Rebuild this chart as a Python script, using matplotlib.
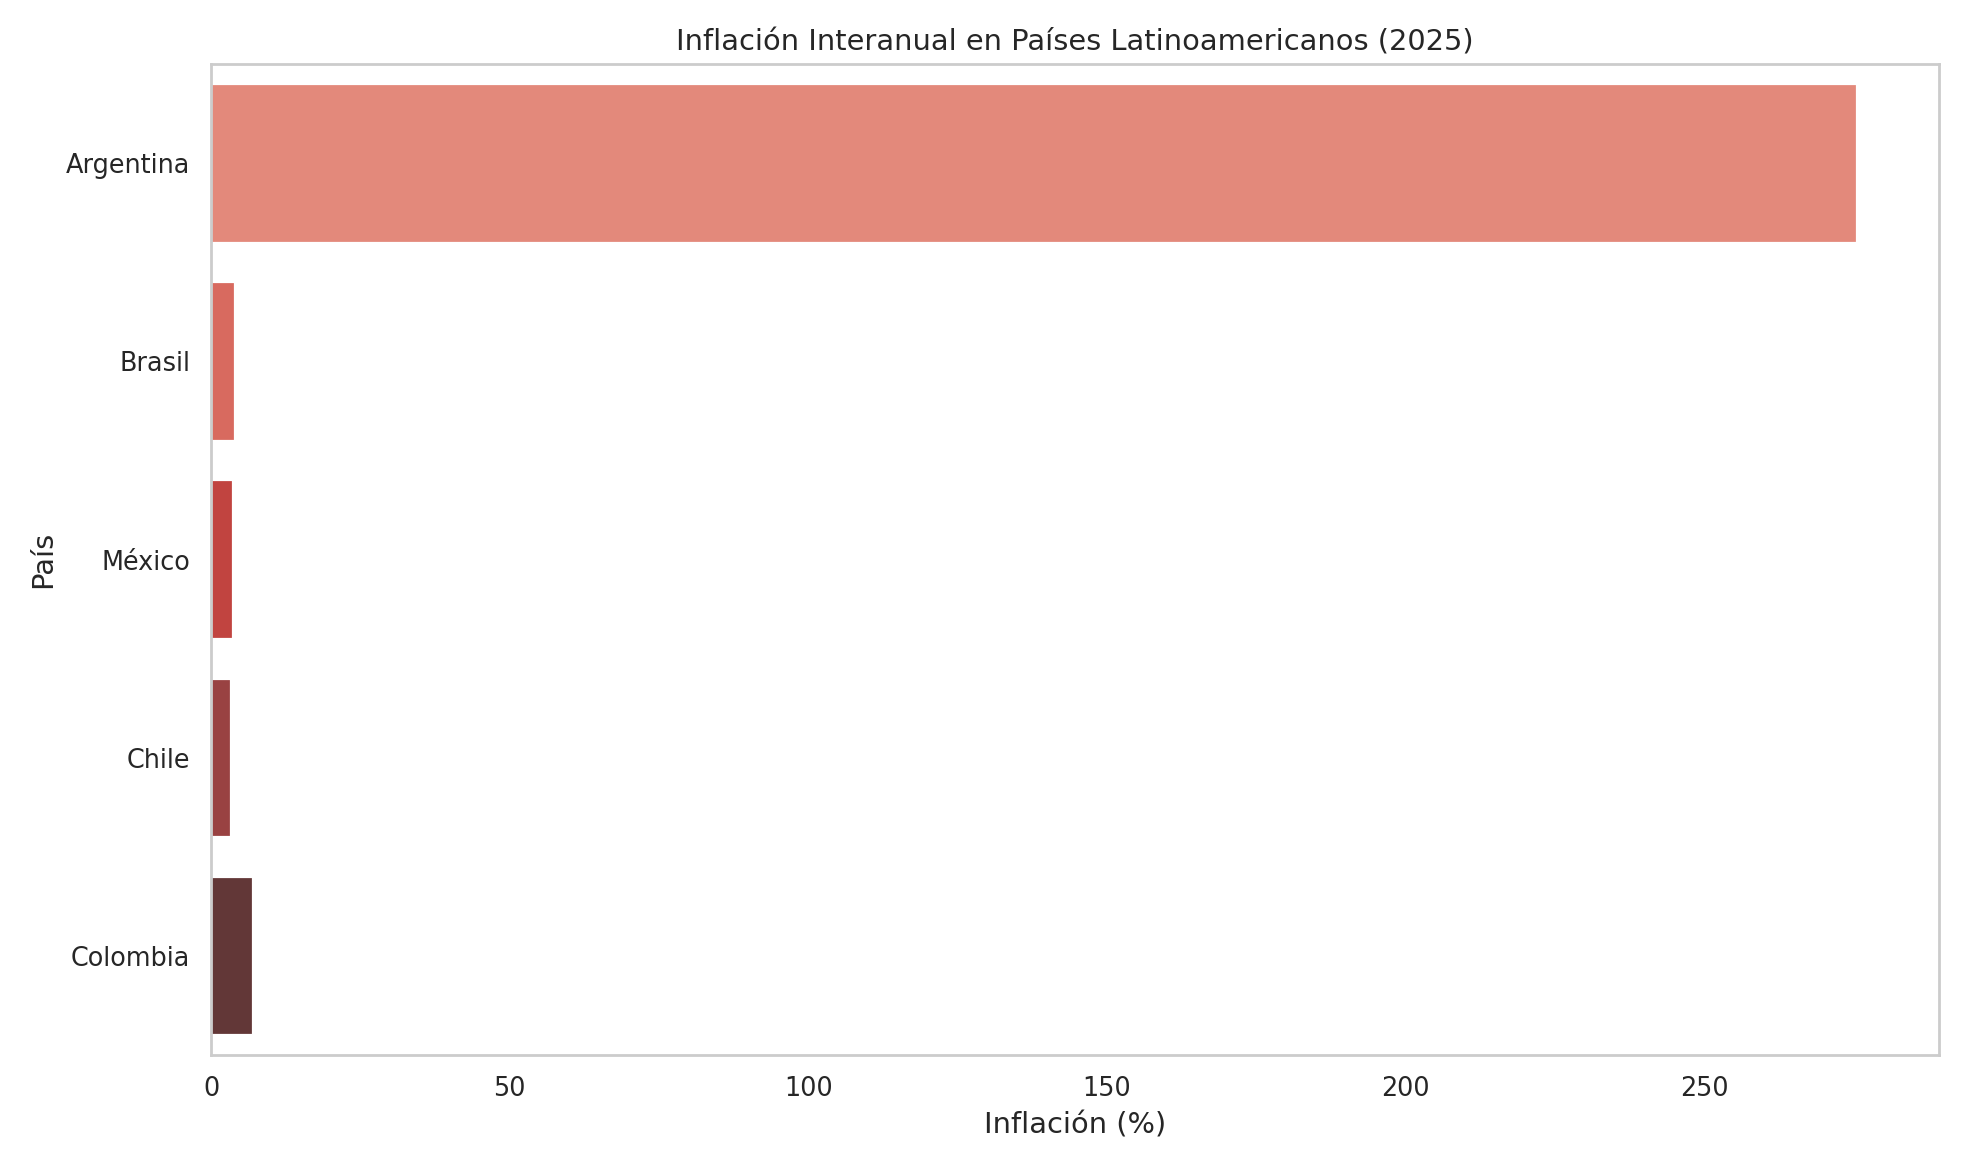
import matplotlib
matplotlib.use("Agg")
import matplotlib.pyplot as plt
import seaborn as sns

# Datos
paises = ["Argentina", "Brasil", "México", "Chile", "Colombia"]
inflacion = [275.6, 4.0, 3.6, 3.3, 7.0]

colores = ["#F47D6A", "#EC5A4B", "#D7302A", "#A73434", "#693030"]

sns.set_theme(style="whitegrid")

fig, ax = plt.subplots(figsize=(12.3, 7.3), dpi=160)
sns.barplot(x=inflacion, y=paises, hue=paises, palette=colores, legend=False, ax=ax)
ax.grid(False)
ax.set_title("Inflación Interanual en Países Latinoamericanos (2025)", fontsize=13)
ax.set_xlabel("Inflación (%)", fontsize=13)
ax.set_ylabel("País", fontsize=13)
ax.tick_params(labelsize=11.5)

fig.tight_layout()
fig.savefig("out.png", dpi=160)
